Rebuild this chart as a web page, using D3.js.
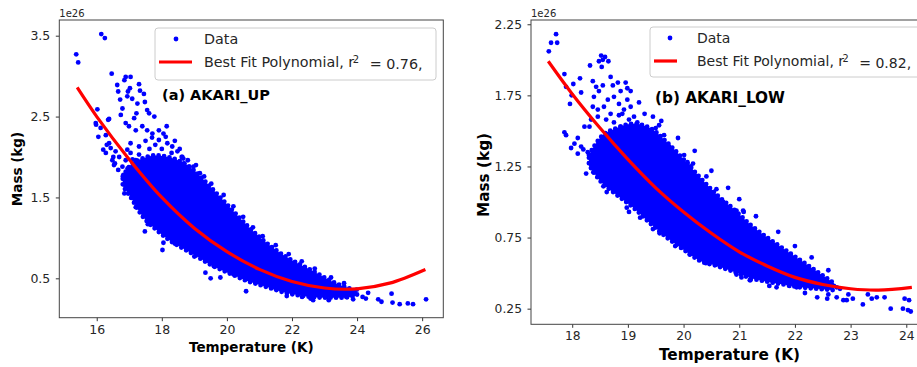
<!DOCTYPE html>
<html>
<head>
<meta charset="utf-8">
<script src="https://cdn.jsdelivr.net/npm/d3@7"></script>
<style>
  body { margin: 0; background: #fff; }
  svg { display: block; font-family: "DejaVu Sans", sans-serif; }
</style>
</head>
<body>
<svg id="chart" width="917" height="367"></svg>
<script>
// ---- panel (a) AKARI_UP ----
// dense core of the cloud: temperature grid with lower / upper mass edge (1e26 kg)
var upCoreT    = [16.8, 17.0, 17.4, 17.8, 18.2, 18.6, 19.0, 19.4, 19.8, 20.2, 20.6, 21.0, 21.4, 21.8, 22.2, 22.6, 23.0, 23.4, 23.8, 24.0];
var upCoreHigh = [1.76, 1.88, 1.98, 2.02, 2.00, 1.94, 1.83, 1.67, 1.50, 1.33, 1.16, 1.01, 0.88, 0.77, 0.68, 0.60, 0.51, 0.43, 0.37, 0.33];
var upCoreLow  = [1.64, 1.53, 1.27, 1.11, 0.98, 0.88, 0.79, 0.69, 0.61, 0.54, 0.47, 0.42, 0.37, 0.32, 0.29, 0.27, 0.26, 0.26, 0.27, 0.29];

// scattered points outside the core [temperature, mass]
var upPoints = [
  [16.14,3.52],[16.25,3.47],[15.37,3.27],[15.43,3.17],[16.46,3.03],[16.89,2.99],[17.04,2.99],[16.85,2.95],
  [17.30,2.90],[17.33,2.82],[17.02,2.85],[16.96,2.81],[16.63,2.89],[16.66,2.81],[16.72,2.71],[16.94,2.75],
  [17.09,2.72],[17.25,2.66],[17.45,2.78],[17.48,2.68],[17.55,2.58],[17.61,2.54],[17.77,2.50],[17.22,2.54],
  [17.15,2.48],[16.79,2.60],[16.74,2.52],[16.02,2.59],[15.97,2.42],[16.12,2.36],[16.38,2.47],[16.05,2.25],
  [16.28,2.27],[16.89,2.42],[16.99,2.38],[17.20,2.33],[17.40,2.38],[17.55,2.33],[17.71,2.29],[17.91,2.33],
  [17.91,2.21],[18.12,2.25],[18.17,2.17],[18.32,2.13],[18.48,2.07],[18.63,2.00],[18.68,1.92],[18.84,1.88],
  [17.04,2.17],[17.30,2.13],[16.94,2.09],[17.04,2.05],[16.38,2.17],[16.43,2.11],[16.28,2.05],[16.58,2.07],
  [16.69,2.00],[16.48,1.96],[16.53,1.90],[16.79,1.88],[16.89,1.96],[17.20,1.96],[16.35,2.46],[15.98,2.40],
  [16.20,2.09],[16.31,2.15],[16.51,2.00],[16.56,1.92],[16.66,1.84],[16.82,1.78],[16.92,1.68],[17.02,1.59],
  [17.48,1.08],[17.57,1.17],[18.05,0.94],[18.02,0.85],[19.34,0.57],[19.50,0.50],[19.80,0.51],[20.59,0.34],
  [21.84,0.28],[22.31,0.27],[22.57,0.25],[23.13,0.23],[23.99,0.36],[24.34,0.32],[24.27,0.25],[24.65,0.24],
  [24.75,0.21],[25.06,0.31],[25.09,0.20],[25.31,0.18],[25.56,0.19],[25.72,0.18],[26.12,0.24],[24.17,0.27],
  [23.88,0.24],[23.67,0.27],[23.49,0.34],[23.06,0.27],[22.65,0.23],[22.91,0.48],[18.05,2.29],[18.15,2.38],
  [18.61,2.00],[18.97,1.88],[19.17,1.80],[18.66,1.98],[18.97,1.80],[19.74,1.45],
  [17.50,2.20],[17.62,2.10],[17.80,2.15],[18.00,2.10],[18.30,2.05],[18.40,2.20],[17.30,2.03],[17.10,1.97],
  [16.95,1.86],[17.70,2.24],[18.55,2.10],[18.80,1.96],[19.05,1.90],[19.30,1.76],[19.52,1.67],[19.90,1.53],
  [20.20,1.39],[20.50,1.26],[20.80,1.13],[21.10,1.02],[21.50,0.91],[21.90,0.80],[22.30,0.71],[22.70,0.62],
  [23.20,0.51],[23.60,0.44],[16.85,1.55],[17.20,1.38],[17.60,1.20],[18.40,0.93],[19.00,0.77],[19.60,0.65],
  [20.20,0.55],[20.90,0.45],[21.50,0.37],[22.00,0.32]
];

// best fit polynomial
var upFitT = [15.4, 16.0, 17.0, 18.0, 19.0, 20.0, 21.0, 22.0, 23.0, 24.0, 25.0, 26.1];
var upFitM = [2.86, 2.50, 1.97, 1.50, 1.12, 0.83, 0.61, 0.46, 0.38, 0.37, 0.44, 0.61];

var upXTicks = [16, 18, 20, 22, 24, 26];
var upYTicks = [0.5, 1.5, 2.5, 3.5];

// ---- panel (b) AKARI_LOW ----
var lowCoreT    = [18.3, 18.5, 18.8, 19.1, 19.4, 19.7, 20.0, 20.3, 20.6, 20.9, 21.2, 21.5, 21.8, 22.1, 22.4, 22.7];
var lowCoreHigh = [1.33, 1.45, 1.52, 1.55, 1.52, 1.42, 1.30, 1.17, 1.05, 0.95, 0.84, 0.75, 0.67, 0.59, 0.51, 0.43];
var lowCoreLow  = [1.26, 1.15, 1.05, 0.96, 0.85, 0.75, 0.665, 0.585, 0.55, 0.51, 0.465, 0.44, 0.42, 0.40, 0.39, 0.38];

var lowPoints = [
  [17.71,2.18],[17.62,2.12],[17.73,2.12],[17.58,2.06],[18.52,2.03],[18.59,2.02],[18.65,1.99],[18.48,1.99],
  [18.55,2.00],[18.32,1.96],[18.53,1.95],[17.86,1.90],[18.14,1.87],[18.02,1.83],[17.89,1.81],[17.99,1.75],
  [18.16,1.77],[17.96,1.69],[18.37,1.85],[18.43,1.81],[18.55,1.82],[18.69,1.88],[18.73,1.82],[18.82,1.84],
  [18.96,1.84],[18.99,1.80],[19.05,1.78],[18.87,1.78],[18.75,1.74],[18.64,1.72],[18.48,1.78],[18.39,1.74],
  [18.37,1.67],[18.46,1.65],[18.57,1.67],[18.69,1.62],[18.84,1.69],[18.99,1.72],[19.05,1.67],[18.93,1.65],
  [18.84,1.61],[19.02,1.58],[19.11,1.60],[19.17,1.56],[19.23,1.53],[19.05,1.53],[18.87,1.53],[18.75,1.56],
  [18.61,1.58],[18.46,1.60],[18.34,1.58],[18.31,1.53],[18.22,1.53],[18.10,1.45],[17.86,1.49],[17.89,1.47],
  [18.04,1.41],[17.98,1.38],[18.16,1.39],[18.10,1.34],[18.28,1.35],[18.31,1.32],[18.34,1.26],[18.46,1.30],
  [18.55,1.25],[18.57,1.34],[18.69,1.31],[18.82,1.34],[19.56,1.54],[19.50,1.52],[19.65,1.47],[19.74,1.39],
  [19.71,1.32],[20.01,1.33],[20.07,1.28],[20.13,1.25],[18.20,1.37],[18.41,1.32],[18.38,1.21],[20.17,1.27],
  [20.41,1.18],[20.59,1.09],[20.71,1.00],[20.95,0.94],[21.07,0.94],[21.13,0.82],[21.37,0.75],[21.49,0.72],
  [21.67,0.40],[21.19,0.45],[20.95,0.49],[20.59,0.56],[20.11,0.63],[19.57,0.78],[19.22,0.89],[18.98,0.96],
  [18.56,1.11],[21.08,0.93],[21.16,0.82],[21.61,0.70],[21.04,0.47],[21.20,0.45],[21.54,0.41],[22.03,0.40],
  [22.18,0.36],[22.40,0.33],[22.60,0.35],[22.58,0.32],[22.75,0.33],[22.93,0.31],[22.96,0.35],[23.04,0.32],
  [22.87,0.31],[23.22,0.28],[23.31,0.35],[23.47,0.33],[23.38,0.32],[23.61,0.33],[23.72,0.25],[23.97,0.32],
  [24.05,0.31],[23.94,0.25],[24.03,0.24],[24.08,0.23],[22.75,0.40],[22.81,0.39],[22.58,0.43],[22.27,0.43],
  [18.90,1.62],[19.30,1.62],[19.45,1.60],[19.60,1.57],[19.90,1.45],[20.20,1.36],[20.50,1.22],[20.80,1.10],
  [21.00,1.02],[21.30,0.90],[21.70,0.79],[22.00,0.69],[22.30,0.61],[22.60,0.52],[18.70,1.47],[19.20,1.70],
  [18.25,1.20],[18.62,1.07],[19.02,0.93],[19.45,0.81],[19.85,0.69],[20.40,0.57],[21.90,0.41]
];

var lowFitT = [17.57, 18.0, 18.5, 19.0, 19.5, 20.0, 20.5, 21.0, 21.5, 22.0, 22.5, 23.0, 23.5, 24.1];
var lowFitM = [1.99, 1.76, 1.52, 1.30, 1.10, 0.93, 0.78, 0.65, 0.55, 0.47, 0.42, 0.39, 0.38, 0.40];

var lowXTicks = [18, 19, 20, 21, 22, 23, 24];
var lowYTicks = [0.25, 0.75, 1.25, 1.75, 2.25];

var BLUE = '#0000ff', RED = '#ff0000';
var svg = d3.select('#chart');

function drawPanel(p) {
  var x = d3.scaleLinear().domain(p.xDomain).range([p.left, p.right]);
  var y = d3.scaleLinear().domain(p.yDomain).range([p.bottom, p.top]);
  var g = svg.append('g');

  // dense part of the cloud, outlined with round dots so the edge looks scattered
  var core = p.coreT.map(function(t, i) { return { t: t, lo: p.coreLow[i], hi: p.coreHigh[i] }; });
  var area = d3.area()
    .x(function(d) { return x(d.t); })
    .y0(function(d) { return y(d.lo); })
    .y1(function(d) { return y(d.hi); })
    .curve(d3.curveMonotoneX);
  g.append('path').datum(core).attr('d', area).attr('fill', BLUE);
  g.append('path').datum(core).attr('d', area)
    .attr('fill', 'none')
    .attr('stroke', BLUE)
    .attr('stroke-width', 4.8)
    .attr('stroke-linecap', 'round')
    .attr('stroke-dasharray', '0 5.5');

  g.selectAll('circle.pt')
    .data(p.points)
    .join('circle')
    .attr('class', 'pt')
    .attr('cx', function(d) { return x(d[0]); })
    .attr('cy', function(d) { return y(d[1]); })
    .attr('r', 2.4)
    .attr('fill', BLUE);

  // fitted curve
  var fit = p.fitT.map(function(t, i) { return [t, p.fitM[i]]; });
  g.append('path')
    .datum(fit)
    .attr('d', d3.line()
      .x(function(d) { return x(d[0]); })
      .y(function(d) { return y(d[1]); })
      .curve(d3.curveCatmullRom))
    .attr('fill', 'none')
    .attr('stroke', RED)
    .attr('stroke-width', 3.2);

  // axes
  var xAxis = g.append('g')
    .attr('transform', 'translate(0,' + p.bottom + ')')
    .call(d3.axisBottom(x).tickValues(p.xTicks).tickFormat(d3.format('d')).tickSize(3.5).tickPadding(3.5));
  var yAxis = g.append('g')
    .attr('transform', 'translate(' + p.left + ',0)')
    .call(d3.axisLeft(y).tickValues(p.yTicks).tickFormat(d3.format(p.yFormat)).tickSize(3.5).tickPadding(5.5));
  [xAxis, yAxis].forEach(function(a) {
    a.select('.domain').remove();
    a.selectAll('line').attr('stroke', '#333');
    a.selectAll('text')
      .attr('fill', '#262626')
      .style('font-family', '"DejaVu Sans", sans-serif')
      .style('font-size', p.tickSize + 'px');
  });

  g.append('rect')
    .attr('x', p.left).attr('y', p.top)
    .attr('width', p.right - p.left).attr('height', p.bottom - p.top)
    .attr('fill', 'none').attr('stroke', '#444').attr('stroke-width', 1);

  g.append('text')
    .attr('x', p.left).attr('y', p.top - 3)
    .style('font-size', '10px').attr('fill', '#262626')
    .text('1e26');

  g.append('text')
    .attr('x', (p.left + p.right) / 2).attr('y', p.xLabelY)
    .attr('text-anchor', 'middle')
    .style('font-size', p.labelSize + 'px').style('font-weight', 'bold')
    .text('Temperature (K)');

  g.append('text')
    .attr('transform', 'translate(' + p.yLabelX + ',' + p.yLabelCenter + ') rotate(-90)')
    .attr('text-anchor', 'middle')
    .style('font-size', p.labelSize + 'px').style('font-weight', 'bold')
    .text('Mass (kg)');

  g.append('text')
    .attr('x', p.titleX).attr('y', p.titleY)
    .style('font-size', p.titleSize + 'px').style('font-weight', 'bold')
    .text(p.title);

  // legend
  var L = p.legend;
  g.append('rect')
    .attr('x', L.x).attr('y', L.y).attr('width', L.w).attr('height', L.h)
    .attr('rx', 3)
    .attr('fill', '#fff').attr('fill-opacity', 0.85)
    .attr('stroke', '#cccccc');
  g.append('circle')
    .attr('cx', L.markX).attr('cy', L.row1).attr('r', 2.4).attr('fill', BLUE);
  g.append('line')
    .attr('x1', L.lineX1).attr('x2', L.lineX2).attr('y1', L.row2).attr('y2', L.row2)
    .attr('stroke', RED).attr('stroke-width', 3.2);
  g.append('text')
    .attr('x', L.textX).attr('y', L.row1).attr('dy', '0.36em')
    .style('font-size', L.size + 'px').attr('fill', '#262626')
    .text('Data');
  var t2 = g.append('text')
    .attr('x', L.textX).attr('y', L.row2).attr('dy', '0.36em')
    .style('font-size', L.size + 'px').attr('fill', '#262626');
  t2.append('tspan').text('Best Fit Polynomial, r');
  t2.append('tspan').attr('dx', -1.5).attr('dy', '-0.45em').style('font-size', (L.size * 0.7) + 'px').text('2');
  t2.append('tspan').attr('dx', 6).attr('dy', '0.45em').text(' = ' + p.r2 + ',');
}

drawPanel({
  xDomain: [14.85, 26.65], yDomain: [0.013, 3.694],
  left: 59.3, right: 443.3, top: 20, bottom: 317.7,
  coreT: upCoreT, coreLow: upCoreLow, coreHigh: upCoreHigh,
  points: upPoints, fitT: upFitT, fitM: upFitM,
  xTicks: upXTicks, yTicks: upYTicks, yFormat: '.1f',
  tickSize: 12.5, labelSize: 13.5, titleSize: 14.5,
  xLabelY: 352, yLabelX: 22, yLabelCenter: 169,
  title: '(a) AKARI_UP', titleX: 162, titleY: 100,
  r2: '0.76',
  legend: { x: 155, y: 28, w: 281, h: 52, markX: 176, row1: 39, row2: 62,
            lineX1: 159, lineX2: 192, textX: 204, size: 14.3 }
});

drawPanel({
  xDomain: [17.26, 24.39], yDomain: [0.14, 2.28],
  left: 531, right: 928, top: 20, bottom: 324.3,
  coreT: lowCoreT, coreLow: lowCoreLow, coreHigh: lowCoreHigh,
  points: lowPoints, fitT: lowFitT, fitM: lowFitM,
  xTicks: lowXTicks, yTicks: lowYTicks, yFormat: '.2f',
  tickSize: 12.3, labelSize: 15.3, titleSize: 15.3,
  xLabelY: 359.5, yLabelX: 488.5, yLabelCenter: 175,
  title: '(b) AKARI_LOW', titleX: 655, titleY: 103,
  r2: '0.82',
  legend: { x: 650, y: 27, w: 300, h: 50, markX: 670, row1: 38, row2: 61,
            lineX1: 654, lineX2: 677, textX: 697, size: 14.0 }
});
</script>
</body>
</html>
